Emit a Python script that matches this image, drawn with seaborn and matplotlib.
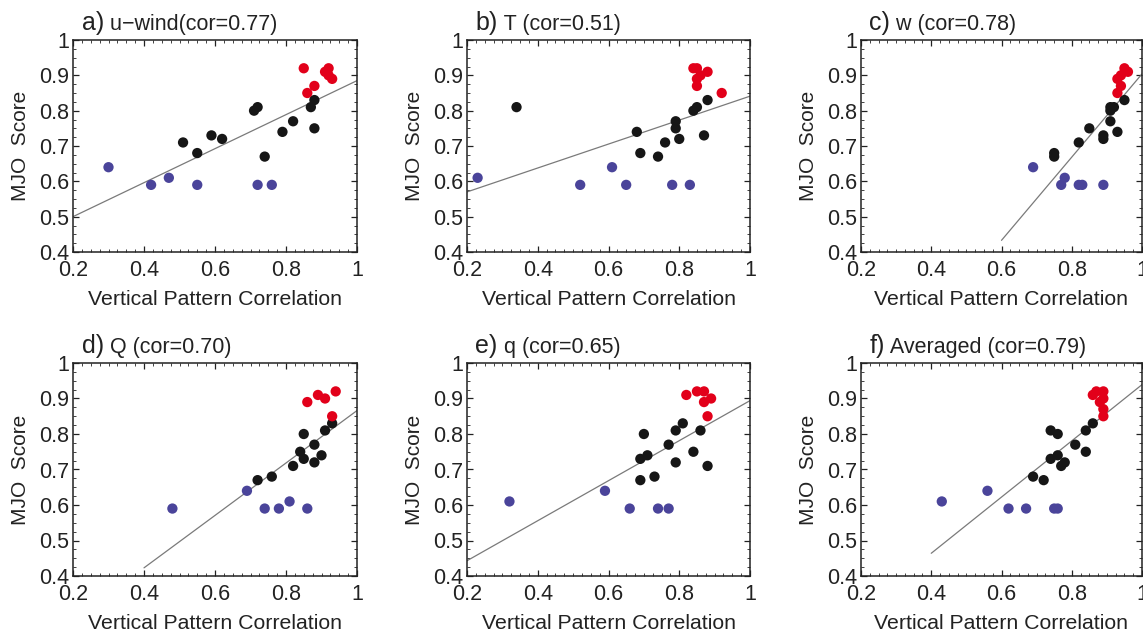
import numpy as np
import pandas as pd
import matplotlib
matplotlib.use("Agg")
import matplotlib.pyplot as plt
from matplotlib.ticker import FixedLocator, MultipleLocator, FuncFormatter
import seaborn as sns

sns.set_style("ticks")
plt.rcParams["font.family"] = ["Liberation Sans", "DejaVu Sans"]

# ---------------- data ----------------
titles_letter = ["a)", "b)", "c)", "d)", "e)", "f)"]
titles_text = ["u\u2212wind(cor=0.77)", "T (cor=0.51)", "w (cor=0.78)",
               "Q (cor=0.70)", "q (cor=0.65)", "Averaged (cor=0.79)"]

# panel a
a_red_x = [0.85, 0.86, 0.88, 0.91, 0.92, 0.92, 0.93]
a_red_y = [0.92, 0.85, 0.87, 0.91, 0.92, 0.90, 0.89]
a_blk_x = [0.51, 0.55, 0.59, 0.62, 0.71, 0.72, 0.74, 0.79, 0.82, 0.87, 0.88, 0.88]
a_blk_y = [0.71, 0.68, 0.73, 0.72, 0.80, 0.81, 0.67, 0.74, 0.77, 0.81, 0.83, 0.75]
a_blu_x = [0.30, 0.42, 0.47, 0.55, 0.72, 0.76]
a_blu_y = [0.64, 0.59, 0.61, 0.59, 0.59, 0.59]
a_fit_x = [0.2, 1.0]
a_fit_y = [0.50, 0.885]

# panel b
b_red_x = [0.84, 0.85, 0.85, 0.86, 0.85, 0.88, 0.92]
b_red_y = [0.92, 0.92, 0.89, 0.90, 0.87, 0.91, 0.85]
b_blk_x = [0.34, 0.68, 0.69, 0.74, 0.76, 0.79, 0.79, 0.80, 0.84, 0.85, 0.88, 0.87]
b_blk_y = [0.81, 0.74, 0.68, 0.67, 0.71, 0.77, 0.75, 0.72, 0.80, 0.81, 0.83, 0.73]
b_blu_x = [0.23, 0.52, 0.61, 0.65, 0.78, 0.83]
b_blu_y = [0.61, 0.59, 0.64, 0.59, 0.59, 0.59]
b_fit_x = [0.2, 1.0]
b_fit_y = [0.57, 0.841]

# panel c
c_red_x = [0.95, 0.96, 0.94, 0.93, 0.94, 0.93]
c_red_y = [0.92, 0.91, 0.90, 0.89, 0.87, 0.85]
c_blk_x = [0.75, 0.75, 0.82, 0.85, 0.89, 0.89, 0.91, 0.91, 0.91, 0.92, 0.93, 0.95]
c_blk_y = [0.68, 0.67, 0.71, 0.75, 0.73, 0.72, 0.77, 0.81, 0.80, 0.81, 0.74, 0.83]
c_blu_x = [0.69, 0.77, 0.78, 0.82, 0.83, 0.89]
c_blu_y = [0.64, 0.59, 0.61, 0.59, 0.59, 0.59]
c_fit_x = [0.6, 1.0]
c_fit_y = [0.433, 0.904]

# panel d
d_red_x = [0.86, 0.89, 0.91, 0.94, 0.93]
d_red_y = [0.89, 0.91, 0.90, 0.92, 0.85]
d_blk_x = [0.72, 0.76, 0.82, 0.84, 0.85, 0.85, 0.88, 0.88, 0.90, 0.91, 0.93]
d_blk_y = [0.67, 0.68, 0.71, 0.75, 0.73, 0.80, 0.77, 0.72, 0.74, 0.81, 0.83]
d_blu_x = [0.48, 0.69, 0.74, 0.78, 0.81, 0.86]
d_blu_y = [0.59, 0.64, 0.59, 0.59, 0.61, 0.59]
d_fit_x = [0.4, 1.0]
d_fit_y = [0.423, 0.866]

# panel e
e_red_x = [0.82, 0.85, 0.87, 0.87, 0.89, 0.88]
e_red_y = [0.91, 0.92, 0.92, 0.89, 0.90, 0.85]
e_blk_x = [0.69, 0.69, 0.70, 0.71, 0.73, 0.77, 0.79, 0.79, 0.81, 0.84, 0.86, 0.88]
e_blk_y = [0.67, 0.73, 0.80, 0.74, 0.68, 0.77, 0.81, 0.72, 0.83, 0.75, 0.81, 0.71]
e_blu_x = [0.32, 0.59, 0.66, 0.74, 0.77]
e_blu_y = [0.61, 0.64, 0.59, 0.59, 0.59]
e_fit_x = [0.2, 1.0]
e_fit_y = [0.443, 0.894]

# panel f
f_red_x = [0.86, 0.87, 0.89, 0.88, 0.89, 0.89, 0.89]
f_red_y = [0.91, 0.92, 0.92, 0.89, 0.90, 0.87, 0.85]
f_blk_x = [0.69, 0.72, 0.74, 0.74, 0.76, 0.76, 0.77, 0.78, 0.81, 0.84, 0.84, 0.86]
f_blk_y = [0.68, 0.67, 0.73, 0.81, 0.80, 0.74, 0.71, 0.72, 0.77, 0.81, 0.75, 0.83]
f_blu_x = [0.43, 0.56, 0.62, 0.67, 0.75, 0.76]
f_blu_y = [0.61, 0.64, 0.59, 0.59, 0.59, 0.59]
f_fit_x = [0.4, 1.0]
f_fit_y = [0.464, 0.939]

x_ticks = [0.2, 0.4, 0.6, 0.8, 1.0]
y_ticks = [0.4, 0.5, 0.6, 0.7, 0.8, 0.9, 1.0]

panels = [
    (a_red_x, a_red_y, a_blk_x, a_blk_y, a_blu_x, a_blu_y, a_fit_x, a_fit_y),
    (b_red_x, b_red_y, b_blk_x, b_blk_y, b_blu_x, b_blu_y, b_fit_x, b_fit_y),
    (c_red_x, c_red_y, c_blk_x, c_blk_y, c_blu_x, c_blu_y, c_fit_x, c_fit_y),
    (d_red_x, d_red_y, d_blk_x, d_blk_y, d_blu_x, d_blu_y, d_fit_x, d_fit_y),
    (e_red_x, e_red_y, e_blk_x, e_blk_y, e_blu_x, e_blu_y, e_fit_x, e_fit_y),
    (f_red_x, f_red_y, f_blk_x, f_blk_y, f_blu_x, f_blu_y, f_fit_x, f_fit_y),
]

palette = {"blue": "#4a449a", "black": "#161616", "red": "#e2001a"}
text_col = "#222222"

W, H = 1143, 632
fig = plt.figure(figsize=(W / 100, H / 100), dpi=100)

lefts = [73, 467, 861]
widths = [284, 283, 281]
tops = [40, 363]
heights = [212, 213]

fmt = FuncFormatter(lambda v, p: f"{v:g}")

for i, pdata in enumerate(panels):
    r, c = divmod(i, 3)
    rx, ry, kx, ky, bx, by, fx, fy = pdata
    ax = fig.add_axes([lefts[c] / W, 1 - (tops[r] + heights[r]) / H,
                       widths[c] / W, heights[r] / H])
    df = pd.DataFrame({
        "x": list(bx) + list(kx) + list(rx),
        "y": list(by) + list(ky) + list(ry),
        "g": ["blue"] * len(bx) + ["black"] * len(kx) + ["red"] * len(rx),
    })
    sns.lineplot(x=fx, y=fy, ax=ax, color="#7a7a7a", linewidth=0.9, zorder=2)
    sns.scatterplot(data=df, x="x", y="y", hue="g", palette=palette, s=55,
                    edgecolor="none", linewidth=0, legend=False, ax=ax, zorder=3)
    ax.set_xlim(0.2, 1.0)
    ax.set_ylim(0.4, 1.0)
    ax.xaxis.set_major_locator(FixedLocator(x_ticks))
    ax.yaxis.set_major_locator(FixedLocator(y_ticks))
    ax.xaxis.set_minor_locator(MultipleLocator(0.025))
    ax.yaxis.set_minor_locator(MultipleLocator(0.025))
    ax.xaxis.set_major_formatter(fmt)
    ax.yaxis.set_major_formatter(fmt)
    ax.tick_params(which="both", direction="in", top=True, right=True,
                   colors=text_col, labelsize=15.5)
    ax.tick_params(axis="x", which="major", pad=6)
    ax.tick_params(axis="y", which="major", pad=3)
    ax.tick_params(which="major", length=4, width=0.9)
    ax.tick_params(which="minor", length=2, width=0.6)
    for sp in ax.spines.values():
        sp.set_linewidth(1.1)
        sp.set_color("#222222")
    ax.set_xlabel("Vertical Pattern Correlation", fontsize=15.3, color=text_col,
                  labelpad=6)
    ax.set_ylabel("MJO  Score", fontsize=15, color=text_col, labelpad=6)
    t = ax.text(0.03, 1.025, titles_letter[i], transform=ax.transAxes,
                fontsize=18, color=text_col, ha="left", va="bottom")
    ax.annotate(" " + titles_text[i], xy=(1, 0), xycoords=t,
                fontsize=15.5, color=text_col, ha="left", va="bottom")

fig.savefig("out.png", dpi=100)
